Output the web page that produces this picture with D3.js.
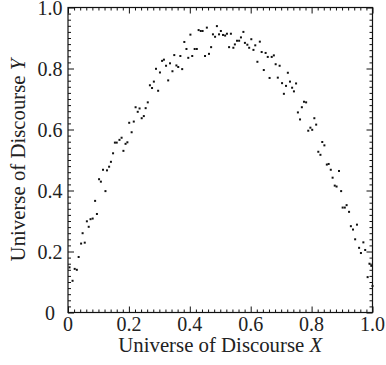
<!DOCTYPE html>
<html>
<head>
<meta charset="utf-8">
<script src="https://cdn.jsdelivr.net/npm/d3@7"></script>
<style>
  html, body { margin: 0; padding: 0; background: #fff; }
  svg text { font-family: "Liberation Serif", "Times New Roman", serif; fill: #222; }
</style>
</head>
<body>
<div id="chart"></div>
<script>
const xValues = [
  0.005, 0.015, 0.022, 0.029, 0.035, 0.043, 0.048, 0.055, 0.062, 0.068,
  0.074, 0.081, 0.089, 0.095, 0.102, 0.108, 0.115, 0.123, 0.128, 0.135,
  0.141, 0.148, 0.154, 0.160, 0.169, 0.176, 0.182, 0.189, 0.195, 0.201,
  0.209, 0.216, 0.222, 0.229, 0.235, 0.242, 0.249, 0.255, 0.262, 0.269,
  0.276, 0.282, 0.289, 0.296, 0.302, 0.309, 0.315, 0.322, 0.329, 0.335,
  0.343, 0.349, 0.356, 0.362, 0.369, 0.375, 0.382, 0.389, 0.395, 0.402,
  0.408, 0.416, 0.423, 0.429, 0.436, 0.442, 0.450, 0.456, 0.463, 0.470,
  0.476, 0.483, 0.489, 0.496, 0.502, 0.509, 0.516, 0.522, 0.529, 0.535,
  0.543, 0.548, 0.555, 0.562, 0.568, 0.576, 0.581, 0.589, 0.595, 0.602,
  0.609, 0.615, 0.622, 0.630, 0.636, 0.643, 0.649, 0.656, 0.662, 0.669,
  0.676, 0.682, 0.689, 0.695, 0.703, 0.709, 0.716, 0.722, 0.729, 0.736,
  0.742, 0.749, 0.755, 0.762, 0.768, 0.775, 0.782, 0.789, 0.796, 0.802,
  0.809, 0.815, 0.822, 0.829, 0.835, 0.842, 0.850, 0.856, 0.863, 0.869,
  0.876, 0.882, 0.890, 0.897, 0.902, 0.909, 0.915, 0.923, 0.929, 0.936,
  0.943, 0.949, 0.956, 0.962, 0.970, 0.976, 0.984, 0.990, 0.996, 1.000
];
const yValues = [
  0.148, 0.104, 0.143, 0.140, 0.182, 0.226, 0.260, 0.229, 0.299, 0.281,
  0.306, 0.308, 0.366, 0.323, 0.437, 0.429, 0.468, 0.398, 0.466, 0.478,
  0.494, 0.522, 0.557, 0.557, 0.566, 0.573, 0.530, 0.553, 0.558, 0.622,
  0.591, 0.626, 0.673, 0.658, 0.669, 0.637, 0.644, 0.670, 0.689, 0.745,
  0.736, 0.757, 0.799, 0.727, 0.787, 0.825, 0.829, 0.809, 0.761, 0.817,
  0.791, 0.844, 0.810, 0.805, 0.841, 0.798, 0.887, 0.864, 0.835, 0.911,
  0.841, 0.864, 0.864, 0.926, 0.923, 0.923, 0.841, 0.934, 0.848, 0.870,
  0.912, 0.904, 0.939, 0.912, 0.923, 0.910, 0.908, 0.914, 0.870, 0.914,
  0.868, 0.879, 0.891, 0.891, 0.902, 0.920, 0.884, 0.878, 0.868, 0.896,
  0.861, 0.876, 0.822, 0.888, 0.854, 0.795, 0.851, 0.838, 0.769, 0.838,
  0.843, 0.814, 0.770, 0.809, 0.752, 0.717, 0.743, 0.786, 0.757, 0.737,
  0.725, 0.751, 0.656, 0.633, 0.673, 0.691, 0.689, 0.596, 0.606, 0.599,
  0.637, 0.616, 0.527, 0.517, 0.559, 0.548, 0.485, 0.487, 0.468, 0.442,
  0.416, 0.413, 0.464, 0.398, 0.344, 0.344, 0.352, 0.330, 0.283, 0.272,
  0.240, 0.288, 0.212, 0.195, 0.230, 0.205, 0.116, 0.160, 0.153, 0.087
];
const xTickLabels = ['0', '0.2', '0.4', '0.6', '0.8', '1.0'];
const yTickLabels = ['0', '0.2', '0.4', '0.6', '0.8', '1.0'];

const width = 386, height = 365;
const margin = { top: 7.5, right: 13.5, bottom: 52.5, left: 68 };
const graphWidth = width - margin.left - margin.right;
const graphHeight = height - margin.top - margin.bottom;

const svg = d3.select('#chart')
  .append('svg')
  .attr('width', width)
  .attr('height', height);

const graph = svg.append('g').attr('transform', `translate(${margin.left}, ${margin.top})`);

const xScale = d3.scaleLinear().domain([0, 1]).range([0, graphWidth]);
const yScale = d3.scaleLinear().domain([0, 1]).range([graphHeight, 0]);

const majorTicks = d3.range(0, 6).map(i => i * 0.2);
const minorTicks = d3.range(0, 51).map(i => i * 0.02).filter((d, i) => i % 10 !== 0);

// inward ticks on every side
function tickSet(axisFn, scale, ticks, size) {
  return axisFn(scale).tickValues(ticks).tickSize(size).tickFormat('');
}

const sides = [
  { fn: d3.axisBottom, scale: xScale, t: `translate(0, ${graphHeight})` },
  { fn: d3.axisTop, scale: xScale, t: 'translate(0, 0)' },
  { fn: d3.axisLeft, scale: yScale, t: 'translate(0, 0)' },
  { fn: d3.axisRight, scale: yScale, t: `translate(${graphWidth}, 0)` }
];

sides.forEach(s => {
  [[majorTicks, 6], [minorTicks, 3]].forEach(([ticks, len]) => {
    const g = graph.append('g')
      .attr('transform', s.t)
      .call(tickSet(s.fn, s.scale, ticks, -len));
    g.select('.domain').remove();
    g.selectAll('line').attr('stroke', '#111').attr('stroke-width', 1);
  });
});

graph.append('rect')
  .attr('x', 0).attr('y', 0)
  .attr('width', graphWidth).attr('height', graphHeight)
  .attr('fill', 'none')
  .attr('stroke', '#111')
  .attr('stroke-width', 1.2);

// tick labels
graph.selectAll('text.x-tick')
  .data(majorTicks)
  .enter()
  .append('text')
  .attr('class', 'x-tick')
  .attr('x', d => xScale(d))
  .attr('y', graphHeight + 18.5)
  .attr('text-anchor', 'middle')
  .style('font-size', '20px')
  .text((d, i) => xTickLabels[i]);

graph.selectAll('text.y-tick')
  .data(majorTicks)
  .enter()
  .append('text')
  .attr('class', 'y-tick')
  .attr('x', -18)
  .attr('y', d => yScale(d) + 7)
  .attr('text-anchor', 'middle')
  .style('font-size', '20px')
  .text((d, i) => yTickLabels[i]);

// axis titles
const xTitle = graph.append('text')
  .attr('x', graphWidth / 2)
  .attr('y', graphHeight + 39.5)
  .attr('text-anchor', 'middle')
  .style('font-size', '20.8px');
xTitle.append('tspan').text('Universe of Discourse ');
xTitle.append('tspan').style('font-style', 'italic').text('X');

const yTitle = graph.append('text')
  .attr('transform', `translate(-43, ${graphHeight / 2}) rotate(-90)`)
  .attr('text-anchor', 'middle')
  .style('font-size', '20.8px');
yTitle.append('tspan').text('Universe of Discourse ');
yTitle.append('tspan').style('font-style', 'italic').text('Y');

// points
const points = xValues.map((x, i) => ({ x, y: yValues[i] }));
graph.selectAll('rect.pt')
  .data(points)
  .enter()
  .append('rect')
  .attr('class', 'pt')
  .attr('x', d => xScale(d.x) - 1)
  .attr('y', d => yScale(d.y) - 1)
  .attr('width', 2)
  .attr('height', 2)
  .attr('fill', '#111');
</script>
</body>
</html>
